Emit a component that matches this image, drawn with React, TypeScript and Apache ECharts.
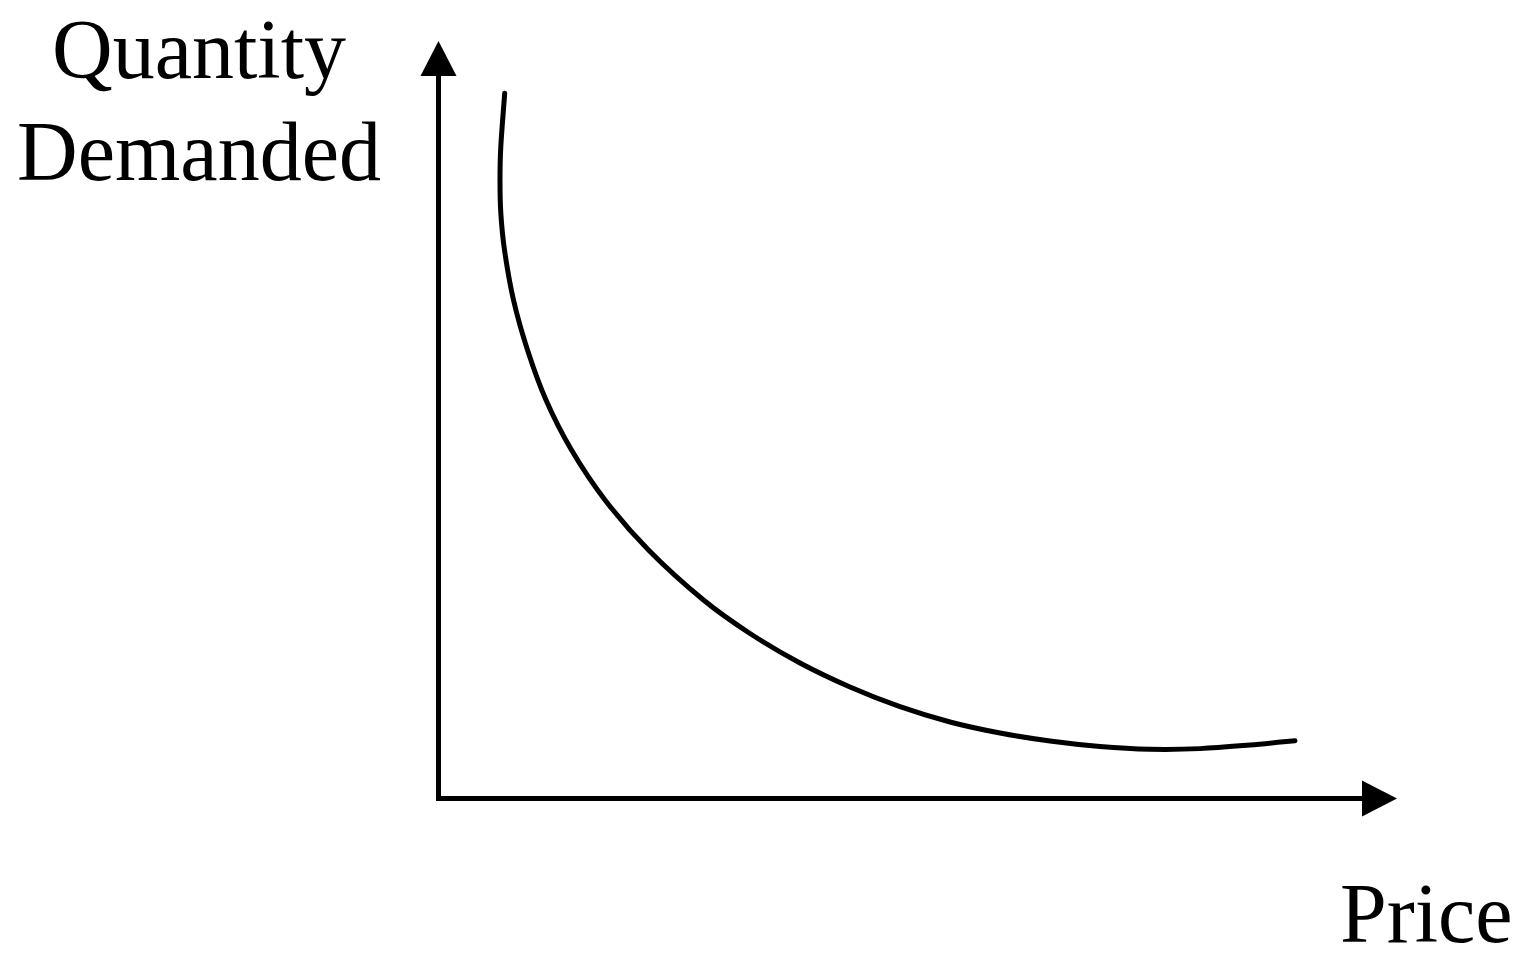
import React, { useEffect, useRef } from "react";
import * as echarts from "echarts";

// Demand curve: price (x) vs quantity demanded (y), both axes on a 0–100 scale
const priceValues: number[] = [
  7.035, 6.621, 6.536, 6.621, 7.014, 7.97, 9.458, 11.424, 14.134, 17.694, 22.317,
  28.161, 33.103, 38.417, 43.73, 49.044, 54.357, 59.671, 64.984, 70.298, 75.611,
  80.925, 86.238, 91.02,
];
const quantityValues: number[] = [
  95.3, 88.08, 83.58, 79.12, 74.12, 67.36, 60.61, 53.85, 47.09, 40.34, 33.58, 26.82,
  22.3, 18.31, 15.07, 12.41, 10.34, 8.85, 7.77, 7.03, 6.66, 6.74, 7.23, 7.81,
];
const axisTitles = { y: ["Quantity", "Demanded"], x: "Price" };

const FONT = '"Liberation Serif", "Times New Roman", serif';

export default function App() {
  const ref = useRef<HTMLDivElement>(null);
  useEffect(() => {
    if (!ref.current) return;
    const chart = echarts.init(ref.current, undefined, { renderer: "svg" });
    const data = priceValues.map((p, i) => [p, quantityValues[i]]);
    const axisCommon = {
      type: "value" as const,
      min: 0,
      max: 100,
      axisTick: { show: false },
      axisLabel: { show: false },
      splitLine: { show: false },
      axisLine: {
        show: true,
        symbol: ["none", "triangle"],
        symbolSize: [36, 35],
        lineStyle: { color: "#000", width: 5, cap: "square" },
      },
    };
    const textStyle = (text: string, align: "center" | "left") => ({
      text,
      font: `84px ${FONT}`,
      fill: "#000",
      align,
      verticalAlign: "middle",
    });
    // Smooth curve through the data points (Catmull-Rom → cubic Bézier),
    // positioned with the cartesian coordinate system via api.coord.
    const renderItem = (params: any, api: any) => {
      if (params.dataIndex !== 0) return null;
      const pts: number[][] = data.map((d) => api.coord(d));
      let d = `M${pts[0][0]},${pts[0][1]}`;
      for (let i = 0; i < pts.length - 1; i++) {
        const p0 = pts[i - 1] || pts[i];
        const p1 = pts[i];
        const p2 = pts[i + 1];
        const p3 = pts[i + 2] || p2;
        const c1x = p1[0] + (p2[0] - p0[0]) / 6;
        const c1y = p1[1] + (p2[1] - p0[1]) / 6;
        const c2x = p2[0] - (p3[0] - p1[0]) / 6;
        const c2y = p2[1] - (p3[1] - p1[1]) / 6;
        d += ` C${c1x},${c1y} ${c2x},${c2y} ${p2[0]},${p2[1]}`;
      }
      return {
        type: "path",
        shape: { pathData: d },
        style: { stroke: "#000", lineWidth: 5, fill: "none", lineCap: "round", lineJoin: "round" },
      };
    };
    chart.setOption({
      animation: false,
      backgroundColor: "#fff",
      grid: { left: 438.5, top: 58.5, right: 148.5, bottom: 176.5 },
      xAxis: axisCommon,
      yAxis: axisCommon,
      series: [
        {
          type: "custom",
          coordinateSystem: "cartesian2d",
          data,
          encode: { x: 0, y: 1 },
          clip: false,
          renderItem,
        },
      ],
      graphic: [
        { type: "text", x: 199, y: 49, style: textStyle(axisTitles.y[0], "center") },
        { type: "text", x: 199, y: 151, style: textStyle(axisTitles.y[1], "center") },
        { type: "text", x: 1340, y: 913, style: textStyle(axisTitles.x, "left") },
      ],
    });
    return () => chart.dispose();
  }, []);
  return (
    <div
      ref={ref}
      style={{ position: "absolute", left: 0, top: 0, width: 1528, height: 975 }}
    />
  );
}
